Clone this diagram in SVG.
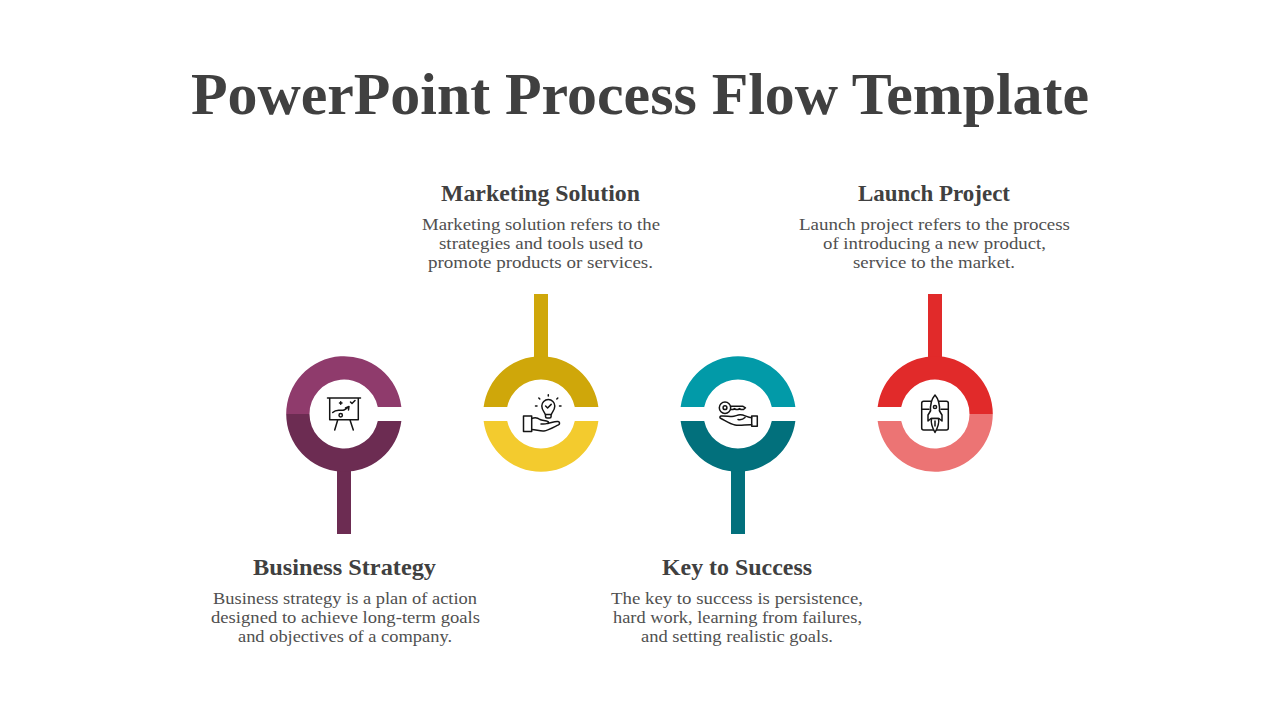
<svg xmlns="http://www.w3.org/2000/svg" width="1280" height="720" viewBox="0 0 1280 720">
<style>
text{font-family:"Liberation Serif","DejaVu Serif",serif;text-anchor:middle}
.title{font-size:59px;font-weight:700;fill:#404040}
.head{font-size:23px;font-weight:700;fill:#404040}
.body{font-size:17.5px;fill:#505050}
.ic{fill:none;stroke:#141414;stroke-width:1.5;stroke-linecap:round;stroke-linejoin:round}
</style>
<rect width="1280" height="720" fill="#fff"/>
<text class="title" x="640" y="114" textLength="898" lengthAdjust="spacingAndGlyphs">PowerPoint Process Flow Template</text>
<g id="connectors">
<rect x="337" y="468" width="14" height="66" fill="#6c2c52"/>
<rect x="534" y="294" width="14" height="66" fill="#cfa70a"/>
<rect x="731" y="468" width="14" height="66" fill="#02707c"/>
<rect x="928" y="294" width="14" height="66" fill="#e12a2a"/>
</g>
<g id="node-business-strategy">
<g transform="translate(344 414)">
<path fill="#8f3b6c" d="M-57.8,0A57.8,57.8 0 0 1 57.37,-7L33.78,-7A34.5,34.5 0 0 0 -34.5,0Z"/>
<path fill="#6c2c52" d="M-57.8,0A57.8,57.8 0 0 0 57.37,7L33.78,7A34.5,34.5 0 0 1 -34.5,0Z"/>
</g>
<g class="ic">
<path d="M327.5,398H360.5M329.7,398V419.7H358.3V398M337.7,420L334.7,430M350,420L353.3,430"/>
<circle cx="340.7" cy="415.3" r="1.7"/>
<path d="M332.7,412.5C337,408 341,411.5 344,410C346,409 347,408 349,406.5M345.5,408L349,406.5L348.5,410M339.5,403H342M340.7,401.8V404.2M350.5,402L352,403.5L355,400.5"/>
</g>
<text class="head" x="344.5" y="575" textLength="183" lengthAdjust="spacingAndGlyphs">Business Strategy</text>
<text class="body" x="345" y="604" textLength="264" lengthAdjust="spacingAndGlyphs">Business strategy is a plan of action</text>
<text class="body" x="345.5" y="623" textLength="269" lengthAdjust="spacingAndGlyphs">designed to achieve long-term goals</text>
<text class="body" x="345" y="642" textLength="214" lengthAdjust="spacingAndGlyphs">and objectives of a company.</text>
</g>
<g id="node-marketing-solution">
<g transform="translate(541 414)">
<path fill="#cfa70a" d="M-57.37,-7A57.8,57.8 0 0 1 57.37,-7L33.78,-7A34.5,34.5 0 0 0 -33.78,-7Z"/>
<path fill="#f3cb2e" d="M-57.37,7A57.8,57.8 0 0 0 57.37,7L33.78,7A34.5,34.5 0 0 1 -33.78,7Z"/>
</g>
<g class="ic">
<path d="M545.3,414.5C544.8,412 541.8,410.5 541.8,406C541.8,402.4 544.7,399.6 548.3,399.6C551.9,399.6 554.8,402.4 554.8,406C554.8,410.5 551.8,412 551.3,414.5ZM545.5,414.5V416.5C545.5,417.5 546.3,418 547,418H549.6C550.4,418 551.1,417.5 551.1,416.5V414.5"/>
<path d="M545.6,406L547.6,408L551.2,404.4M548.3,396V394.7M539.8,399L538.8,398M556.8,399L557.8,398M537,406H535.5M559.5,406H561"/>
<rect x="523.5" y="416" width="8.2" height="15.6"/>
<path d="M531.7,418.5C535,417 537.5,417.5 540,419.5C542,420.8 546,420 548,421.5C549.5,422.8 547,424.5 541,424M548,423.5C551,423 555,421 558,421.5C560,422 560,424 558.5,424.8C554,427 548,430.5 544,431C540,431.5 536,429.5 531.7,429.5"/>
</g>
<text class="head" x="540.5" y="201" textLength="199" lengthAdjust="spacingAndGlyphs">Marketing Solution</text>
<text class="body" x="541" y="230" textLength="238" lengthAdjust="spacingAndGlyphs">Marketing solution refers to the</text>
<text class="body" x="541" y="249" textLength="204" lengthAdjust="spacingAndGlyphs">strategies and tools used to</text>
<text class="body" x="540.5" y="268" textLength="225" lengthAdjust="spacingAndGlyphs">promote products or services.</text>
</g>
<g id="node-key-to-success">
<g transform="translate(738 414)">
<path fill="#029aa8" d="M-57.37,-7A57.8,57.8 0 0 1 57.37,-7L33.78,-7A34.5,34.5 0 0 0 -33.78,-7Z"/>
<path fill="#02707c" d="M-57.37,7A57.8,57.8 0 0 0 57.37,7L33.78,7A34.5,34.5 0 0 1 -33.78,7Z"/>
</g>
<g class="ic">
<circle cx="725" cy="407.7" r="5.7"/>
<circle cx="725" cy="407.7" r="1.9"/>
<path d="M730.6,406.3H743L745.5,407.8L743.5,409.5H741L739.5,408.6L738,409.5H736L734.5,408.6L733,409.5H730.6"/>
<path d="M751.7,417.8C747,417.5 744,414.5 740,414.8C737,415 735,416.5 732,416.5C729,416.5 724,415.5 721,416C719.5,416.5 719.5,417.8 721,418.5C725,420.5 730,424 735,425C740,426 746,424.5 751.7,424.8M738,419.5C742,420.5 744,418.5 745,417.5"/>
<rect x="751.7" y="416" width="5.6" height="10.2"/>
</g>
<text class="head" x="737" y="575" textLength="150" lengthAdjust="spacingAndGlyphs">Key to Success</text>
<text class="body" x="737" y="604" textLength="252" lengthAdjust="spacingAndGlyphs">The key to success is persistence,</text>
<text class="body" x="737.5" y="623" textLength="249" lengthAdjust="spacingAndGlyphs">hard work, learning from failures,</text>
<text class="body" x="737" y="642" textLength="192" lengthAdjust="spacingAndGlyphs">and setting realistic goals.</text>
</g>
<g id="node-launch-project">
<g transform="translate(935 414)">
<path fill="#e12a2a" d="M-57.37,-7A57.8,57.8 0 0 1 57.8,0L34.5,0A34.5,34.5 0 0 0 -33.78,-7Z"/>
<path fill="#ec7474" d="M-57.37,7A57.8,57.8 0 0 0 57.8,0L34.5,0A34.5,34.5 0 0 1 -33.78,7Z"/>
</g>
<g class="ic">
<rect x="921.7" y="401.3" width="26.6" height="28.7" rx="2"/>
<path d="M921.7,409.3H929M941,409.3H948.3"/>
<path fill="#fff" d="M935,395C931.5,399 930,404 930.5,412V418H939.5V412C940,404 938.5,399 935,395Z"/>
<circle cx="935" cy="407" r="1.6"/>
<path fill="#fff" d="M930.5,411L928,415V421L931,418.5H939L942,421V415L939.5,411"/>
<path fill="#fff" d="M931.5,418.5C930.5,423 932.5,428 935,432.5C937.5,428 939.5,423 938.5,418.5ZM935,421V426"/>
</g>
<text class="head" x="934" y="201" textLength="152" lengthAdjust="spacingAndGlyphs">Launch Project</text>
<text class="body" x="934.5" y="230" textLength="271" lengthAdjust="spacingAndGlyphs">Launch project refers to the process</text>
<text class="body" x="934.5" y="249" textLength="223" lengthAdjust="spacingAndGlyphs">of introducing a new product,</text>
<text class="body" x="934" y="268" textLength="162" lengthAdjust="spacingAndGlyphs">service to the market.</text>
</g>
</svg>
